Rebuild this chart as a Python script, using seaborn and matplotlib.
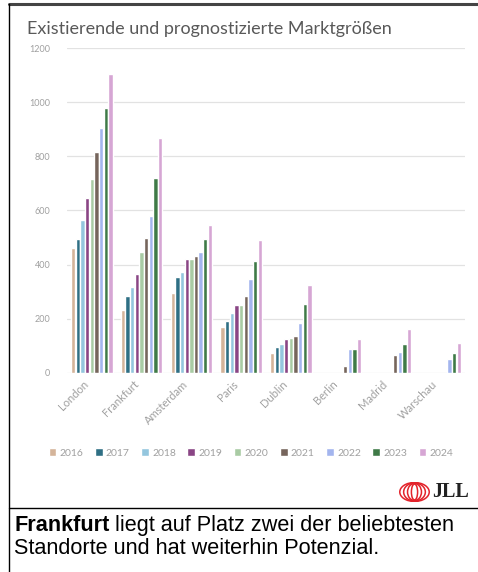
import numpy as np
import pandas as pd
import seaborn as sns
import matplotlib.pyplot as plt
from matplotlib.lines import Line2D
from matplotlib.patches import Ellipse
from matplotlib.transforms import ScaledTranslation

cities = ['London', 'Frankfurt', 'Amsterdam', 'Paris', 'Dublin', 'Berlin', 'Madrid', 'Warschau']
years = ['2016', '2017', '2018', '2019', '2020', '2021', '2022', '2023', '2024']
nan = np.nan
london = [460, 495, 565, 645, 715, 815, 905, 978, 1105]
frankfurt = [232, 285, 318, 365, 447, 498, 580, 721, 867]
amsterdam = [296, 356, 374, 420, 420, 433, 446, 494, 546]
paris = [171, 191, 220, 251, 251, 284, 346, 414, 490]
dublin = [75, 94, 106, 124, 128, 138, 183, 253, 325]
berlin = [nan, nan, nan, nan, nan, 25, 90, 90, 125]
madrid = [nan, nan, nan, nan, nan, 66, 79, 106, 161]
warschau = [nan, nan, nan, nan, nan, nan, 50, 73, 112]
colors = ['#d4b49a', '#2f6f84', '#94c6de', '#8a4585', '#a9cba4',
          '#76655c', '#a3b5ee', '#3f7a47', '#d6a6d4']

rows = []
for city, vals in zip(cities, [london, frankfurt, amsterdam, paris, dublin, berlin, madrid, warschau]):
    for yr, v in zip(years, vals):
        rows.append({'city': city, 'year': yr, 'value': v})
df = pd.DataFrame(rows)

sns.set_style('white')
plt.rcParams['font.family'] = ['Lato', 'DejaVu Sans']

fig = plt.figure(figsize=(4.78, 5.72), dpi=100)
ax = fig.add_axes([0.140, 0.348, 0.833, 0.568])

sns.barplot(data=df, x='city', y='value', hue='year', order=cities, hue_order=years,
            palette=colors, width=0.84, gap=0.07, ax=ax, saturation=1)

ax.set_ylim(0, 1200)
ax.set_yticks(range(0, 1201, 200))
ax.set_xlim(-0.5, 7.5)
ax.yaxis.grid(True, color='#e2e2e2', linewidth=0.9)
ax.set_axisbelow(True)
for s in ax.spines.values():
    s.set_visible(False)
ax.set_xlabel('')
ax.set_ylabel('')
ax.tick_params(axis='y', labelsize=6.5, labelcolor='#a0a0a0', length=0, pad=12)
ax.tick_params(axis='x', labelsize=8, labelcolor='#a0a0a0', length=0, pad=4)
shift = ScaledTranslation(-9 / 100, 0, fig.dpi_scale_trans)
for lab in ax.get_xticklabels():
    lab.set_rotation(45)
    lab.set_ha('right')
    lab.set_rotation_mode('anchor')
    lab.set_transform(lab.get_transform() + shift)

handles, labels = ax.get_legend_handles_labels()
ax.legend(handles, labels, loc='center', bbox_to_anchor=(0.525, 1 - 453 / 572),
          bbox_transform=fig.transFigure, ncol=9, frameon=False, fontsize=7.5,
          labelcolor='#a0a0a0', handlelength=0.75, handleheight=0.75,
          handletextpad=0.3, columnspacing=1.1)

fig.text(27 / 478, 1 - 29 / 572, 'Existierende und prognostizierte Marktgrößen',
         fontsize=13, color='#595959', va='center', ha='left')

# frame lines
fig.add_artist(Line2D([9 / 478, 1], [1 - 4 / 572, 1 - 4 / 572], color='#444444', lw=2.2))
fig.add_artist(Line2D([9 / 478, 9 / 478], [0, 1 - 4 / 572], color='black', lw=1))
fig.add_artist(Line2D([9 / 478, 1], [1 - 508 / 572, 1 - 508 / 572], color='black', lw=1))

# JLL logo
lax = fig.add_axes([399 / 478, 1 - 502 / 572, 31 / 478, 20 / 572])
lax.set_xlim(-1, 1)
lax.set_ylim(-1, 1)
lax.axis('off')
for w, h in [(1.9, 1.9), (1.4, 1.8), (0.9, 1.7), (0.4, 1.6)]:
    lax.add_patch(Ellipse((0, 0), w, h, fill=False, ec='#e3232b', lw=1.1))
fig.text(432 / 478, 1 - 492 / 572, 'JLL', family='Liberation Serif', weight='bold',
         fontsize=14.5, color='#222222', va='center', ha='left')

# caption
renderer = fig.canvas.get_renderer()
t1 = fig.text(14 / 478, 1 - 531 / 572, 'Frankfurt', family='Liberation Sans',
              weight='bold', fontsize=15.6, color='black', va='baseline')
bb = t1.get_window_extent(renderer=renderer)
fig.text(bb.x1 / fig.bbox.width, 1 - 531 / 572, ' liegt auf Platz zwei der beliebtesten',
         family='Liberation Sans', fontsize=15.6, color='black', va='baseline')
fig.text(14 / 478, 1 - 554 / 572, 'Standorte und hat weiterhin Potenzial.',
         family='Liberation Sans', fontsize=15.6, color='black', va='baseline')

fig.savefig('out.png', dpi=100)
